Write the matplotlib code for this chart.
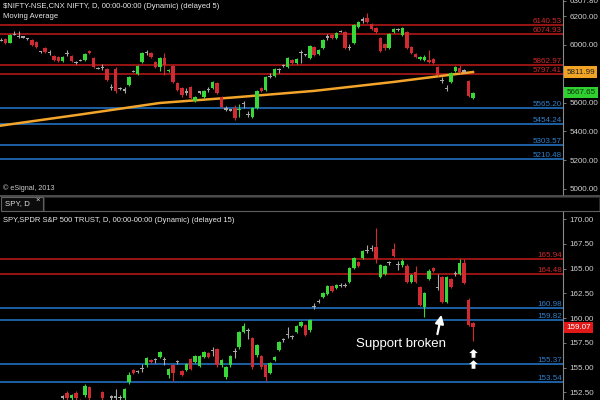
import matplotlib
matplotlib.use('Agg')
import matplotlib.pyplot as plt
import numpy as np
from matplotlib.lines import Line2D
from matplotlib.patches import Rectangle
from matplotlib.path import Path
import matplotlib.transforms as mtransforms

plt.rcParams['font.family'] = ['Liberation Sans', 'DejaVu Sans']

# ---------------- NIFTY (top panel) ----------------
nifty_open = [6035, 6042, 6014, 6076, 6058, 6056, 6044, 6035, 6021, 5953,
              5979, 5946, 5924, 5917, 5889, 5940, 5924, 5882, 5896, 5896,
              5958, 5910, 5840, 5847, 5833, 5708, 5833, 5701, 5688, 5722,
              5819, 5799, 5882, 5951, 5944, 5882, 5847, 5910, 5819, 5854,
              5736, 5701, 5674, 5708, 5611, 5674, 5639, 5694, 5701, 5736,
              5639, 5556, 5549, 5562, 5545, 5597, 5521, 5500, 5562, 5701,
              5688, 5785, 5785, 5828, 5854, 5847, 5896, 5875, 5946, 5932,
              5910, 5986, 5938, 5979, 6056, 6069, 6049, 6097, 6090, 5986,
              6014, 6125, 6174, 6187, 6146, 6118, 6049, 6007, 5979, 6090,
              6111, 6069, 6090, 5986, 5938, 5903, 5896, 5896, 5903, 5847,
              5757, 5701, 5743, 5819, 5840, 5820, 5750, 5632]
nifty_close = [6032, 6014, 6069, 6074, 6056, 6054, 6042, 6000, 5986, 5950,
               5951, 5943, 5896, 5889, 5917, 5937, 5889, 5880, 5894, 5938,
               5944, 5847, 5838, 5845, 5757, 5706, 5681, 5699, 5686, 5778,
               5817, 5854, 5944, 5949, 5917, 5847, 5910, 5861, 5826, 5743,
               5688, 5653, 5672, 5632, 5639, 5672, 5681, 5692, 5743, 5667,
               5569, 5554, 5547, 5493, 5553, 5594, 5519, 5562, 5681, 5681,
               5778, 5783, 5833, 5826, 5856, 5910, 5875, 5903, 5944, 5930,
               5993, 5931, 5965, 6035, 6054, 6049, 6083, 6095, 5979, 5984,
               6139, 6160, 6172, 6160, 6111, 6090, 5958, 5979, 6076, 6111,
               6109, 6118, 5979, 5944, 5917, 5917, 5917, 5882, 5875, 5792,
               5755, 5699, 5806, 5847, 5812, 5818, 5646, 5668]
nifty_high = [6045, 6050, 6075, 6095, 6097, 6062, 6050, 6042, 6028, 5960,
              5985, 5965, 5931, 5924, 5924, 5965, 5931, 5889, 5905, 5945,
              5962, 5915, 5847, 5868, 5840, 5729, 5847, 5708, 5708, 5782,
              5826, 5860, 5951, 5965, 5951, 5889, 5917, 5944, 5833, 5861,
              5743, 5708, 5701, 5715, 5646, 5681, 5688, 5708, 5750, 5743,
              5646, 5576, 5556, 5583, 5590, 5611, 5540, 5569, 5688, 5708,
              5785, 5806, 5840, 5840, 5865, 5917, 5903, 5910, 5965, 5940,
              6000, 5993, 5972, 6042, 6076, 6076, 6090, 6104, 6097, 6007,
              6146, 6167, 6195, 6222, 6153, 6125, 6056, 6014, 6083, 6118,
              6120, 6125, 6097, 5993, 5944, 5924, 5931, 5965, 5910, 5854,
              5778, 5722, 5812, 5854, 5861, 5830, 5757, 5674]
nifty_low = [6025, 6008, 6010, 6068, 6050, 6048, 6036, 5993, 5980, 5944,
             5945, 5931, 5889, 5882, 5882, 5924, 5882, 5870, 5885, 5889,
             5940, 5840, 5830, 5826, 5750, 5688, 5667, 5690, 5667, 5715,
             5810, 5792, 5875, 5930, 5910, 5840, 5820, 5792, 5812, 5736,
             5680, 5640, 5653, 5625, 5605, 5660, 5632, 5674, 5694, 5660,
             5562, 5540, 5540, 5480, 5500, 5562, 5500, 5493, 5555, 5674,
             5681, 5771, 5778, 5806, 5845, 5840, 5868, 5868, 5875, 5920,
             5903, 5924, 5931, 5972, 6035, 6042, 6042, 6088, 5972, 5965,
             6007, 6118, 6153, 6153, 6104, 6083, 5951, 5965, 5972, 6083,
             6097, 6062, 5972, 5937, 5910, 5896, 5889, 5875, 5868, 5785,
             5736, 5681, 5736, 5812, 5806, 5806, 5640, 5625]
ma_idx = [0, 18, 36, 53, 71, 89, 98, 107]
ma_vals = [5440, 5517, 5597, 5636, 5681, 5743, 5778, 5812]
nifty_res = [6140.53, 6074.93, 5862.97, 5797.41]
nifty_sup = [5565.20, 5454.24, 5303.57, 5210.48]
nifty_ticks = [6307.80, 6200, 6000, 5600, 5400, 5200, 5000]
nifty_ma_last = 5811.99
nifty_last = 5667.65

# ---------------- SPY (bottom panel) ----------------
spy_start = 14
spy_open = [152.0, 152.4, 151.9, 152.4, 151.6, 152.2, 153.0, 151.5, 151.3, 152.5,
            151.6, 152.0, 152.0, 151.95, 151.9, 153.5, 154.75, 154.6, 154.9, 155.3,
            155.8, 155.75, 156.1, 155.78, 154.2, 155.25, 155.6, 154.6, 154.7, 155.9,
            155.6, 155.2, 156.1, 156.5, 156.67, 156.9, 155.25, 154.0, 155.25, 156.56,
            157.07, 158.6, 158.7, 158.0, 156.26, 156.16, 155.25, 154.44, 155.76, 156.8,
            157.78, 158.3, 158.1, 158.6, 159.2, 159.3, 158.8, 161.2, 161.7, 162.1,
            162.4, 163.2, 163.0, 163.3, 163.3, 163.6, 165.1, 165.7, 166.1, 166.8,
            167.0, 167.2, 164.1, 164.4, 165.6, 167.0, 165.4, 165.35, 165.3, 163.6,
            164.6, 163.1, 161.1, 163.9, 165.1, 163.1, 164.1, 161.6, 163.9, 164.45,
            164.45, 165.55, 161.8, 159.5]
spy_close = [152.05, 151.9, 152.2, 151.9, 151.5, 153.1, 151.9, 151.3, 151.6, 151.9,
             151.5, 152.05, 152.05, 152.0, 152.8, 154.2, 154.45, 154.65, 154.95, 156.0,
             155.6, 155.8, 156.6, 155.8, 154.9, 154.45, 155.62, 154.2, 155.4, 154.9,
             156.2, 156.2, 156.6, 156.1, 156.7, 155.25, 155.76, 155.1, 156.16, 156.6,
             158.6, 159.2, 158.72, 155.05, 157.27, 155.05, 154.04, 155.46, 156.06, 157.6,
             157.8, 158.32, 158.12, 159.2, 159.6, 158.3, 159.8, 161.22, 161.72, 162.5,
             163.2, 162.7, 163.3, 163.32, 163.32, 165.1, 166.1, 165.3, 166.8, 166.82,
             167.02, 166.0, 165.4, 165.3, 165.62, 166.3, 165.42, 165.8, 163.6, 164.3,
             163.6, 161.3, 162.5, 164.8, 164.75, 163.12, 161.6, 164.1, 163.1, 164.47,
             165.55, 163.5, 159.3, 159.07]
spy_high = [152.2, 152.6, 152.3, 152.6, 151.8, 153.3, 153.1, 151.7, 151.7, 152.6,
            151.7, 152.2, 152.8, 152.2, 152.9, 154.5, 154.9, 154.8, 155.4, 156.1,
            155.9, 156.0, 156.7, 156.1, 155.0, 155.4, 155.8, 154.7, 155.5, 156.0,
            156.3, 156.3, 156.7, 156.6, 157.1, 157.0, 155.9, 155.2, 156.3, 157.0,
            158.7, 159.5, 159.0, 158.1, 157.4, 156.3, 155.4, 155.6, 156.2, 157.7,
            158.0, 159.1, 158.3, 159.3, 159.7, 159.4, 159.9, 161.5, 161.9, 162.6,
            163.3, 163.3, 163.4, 163.5, 163.5, 165.2, 166.2, 165.8, 166.9, 167.4,
            167.4, 169.1, 165.5, 165.4, 165.8, 167.6, 165.8, 166.0, 165.5, 164.4,
            165.3, 163.2, 162.6, 165.0, 165.2, 164.4, 164.2, 164.2, 164.0, 164.8,
            166.0, 166.0, 162.0, 159.6]
spy_low = [151.8, 151.7, 151.7, 151.6, 151.2, 152.0, 151.6, 151.0, 151.1, 151.6,
           151.2, 151.7, 151.7, 151.7, 151.7, 153.3, 154.3, 154.4, 154.5, 155.1,
           155.5, 155.5, 156.0, 155.3, 153.9, 153.6, 155.4, 154.1, 154.6, 154.8,
           155.5, 155.1, 156.0, 156.0, 156.2, 155.1, 155.1, 153.8, 155.1, 156.0,
           156.9, 158.5, 157.9, 154.9, 156.1, 154.9, 153.6, 154.3, 155.7, 156.7,
           157.6, 158.0, 157.9, 158.5, 159.1, 158.2, 158.6, 160.9, 161.5, 162.0,
           162.3, 162.6, 162.9, 163.1, 163.1, 163.5, 165.0, 165.2, 166.0, 166.6,
           166.8, 165.6, 164.0, 164.3, 165.4, 166.2, 164.9, 165.2, 163.5, 163.5,
           163.5, 161.2, 160.1, 163.8, 164.6, 162.8, 161.5, 161.5, 163.0, 164.2,
           164.3, 163.4, 159.2, 157.7]
spy_res = [165.94, 164.48]
spy_sup = [160.98, 159.82, 155.37, 153.54]
spy_ticks = [170.0, 167.5, 165.0, 162.5, 160.0, 157.5, 155.0, 152.5]
spy_last = 159.07
spy_marks = [156.5, 155.35]

UP, DOWN, DOJI = '#38d838', '#d02a32', '#a8a8a8'
RES_C, SUP_C = '#a51616', '#1f68b0'
RES_T, SUP_T = '#d02a2a', '#2f80cc'
AXC = '#8a8a8a'
TXT = '#d0d0d0'
FS = 5.8

fig = plt.figure(figsize=(6, 4), dpi=100, facecolor='black')
ax1 = fig.add_axes([0, 1 - 195 / 400, 563 / 600, 195 / 400])
ax2 = fig.add_axes([0, 0, 563 / 600, 189 / 400])


def draw_candles(ax, start, o, h, l, c, tol, min_h):
    o, h, l, c = map(np.asarray, (o, h, l, c))
    x = start + np.arange(len(o))
    d = c - o
    cols = np.where(np.abs(d) <= tol, DOJI, np.where(d > 0, UP, DOWN))
    ax.vlines(x, l, h, colors=cols, lw=0.8, zorder=3)
    hgt = np.maximum(np.abs(d), min_h)
    bot = np.where(np.abs(d) < min_h, (o + c) / 2 - min_h / 2, np.minimum(o, c))
    ax.bar(x, hgt, bottom=bot, width=0.78, color=cols, linewidth=0, zorder=4)


def style(ax, ylim, ticks):
    ax.set_facecolor('black')
    ax.set_xlim(-0.23, 127.4)
    ax.set_ylim(*ylim)
    ax.set_xticks([])
    for s in ['left', 'top', 'bottom']:
        ax.spines[s].set_visible(False)
    ax.spines['right'].set_color(AXC)
    ax.spines['right'].set_linewidth(0.8)
    ax.yaxis.tick_right()
    ax.set_yticks(ticks)
    ax.set_yticklabels([f'{t:.2f}' for t in ticks])
    ax.tick_params(axis='y', colors=AXC, labelcolor=TXT, labelsize=FS,
                   length=2.5, width=0.6, pad=2)


def levels(ax, vals, lc, tc):
    tr = mtransforms.blended_transform_factory(ax.transAxes, ax.transData)
    for v in vals:
        ax.axhline(v, color=lc, lw=1.3, zorder=2)
        ax.text(0.998, v, f'{v:.2f}', transform=tr, ha='right', va='bottom',
                color=tc, fontsize=FS, zorder=5)


def tag(ax, v, fc, tc):
    tr = mtransforms.blended_transform_factory(ax.transAxes, ax.transData)
    ax.text(1.006, v, f'{v:.2f}', transform=tr, ha='left', va='center',
            color=tc, fontsize=FS, clip_on=False, zorder=10,
            bbox=dict(boxstyle='square,pad=0.25', fc=fc, ec='none'))


# top panel
style(ax1, (4958, 6312), nifty_ticks)
levels(ax1, nifty_res, RES_C, RES_T)
levels(ax1, nifty_sup, SUP_C, SUP_T)
ax1.plot(ma_idx, ma_vals, color='#f2a52a', lw=1.8, zorder=3)
draw_candles(ax1, 0, nifty_open, nifty_high, nifty_low, nifty_close, 4.5, 7.5)
tag(ax1, nifty_ma_last, '#f0a324', '#202020')
tag(ax1, nifty_last, '#2fd02f', '#103010')

# bottom panel
style(ax2, (151.72, 170.81), spy_ticks)
levels(ax2, spy_res, RES_C, RES_T)
levels(ax2, spy_sup, SUP_C, SUP_T)
draw_candles(ax2, spy_start, spy_open, spy_high, spy_low, spy_close, 0.07, 0.11)
tag(ax2, spy_last, '#e01818', 'white')

# annotations
ax2.text(90.7, 157.37, 'Support broken', color='white', fontsize=9.5,
         ha='center', va='center', zorder=10)
ax2.annotate('', xy=(99.97, 160.6), xytext=(98.8, 158.1),
             arrowprops=dict(arrowstyle='-|>,head_width=0.25,head_length=0.5',
                             color='white', lw=1.6), zorder=10)
arrow_marker = Path([(0, 1), (1, 0.1), (0.45, 0.1), (0.45, -1), (-0.45, -1),
                     (-0.45, 0.1), (-1, 0.1), (0, 1)])
ax2.scatter([spy_start + len(spy_open) - 1] * len(spy_marks), spy_marks,
            marker=arrow_marker, s=38, color='white', zorder=10, linewidths=0)

# headers and frame elements
fig.text(3 / 600, 1 - 6.5 / 400, '$NIFTY-NSE,CNX NIFTY, D, 00:00-00:00 (Dynamic) (delayed 5)',
         color='#e8e8e8', fontsize=5.5, va='center', ha='left')
fig.text(3 / 600, 1 - 16.5 / 400, 'Moving Average', color='#e8e8e8', fontsize=5.5,
         va='center', ha='left')
fig.text(3 / 600, 1 - 188 / 400, '\u00a9 eSignal, 2013', color='#c8c8c8', fontsize=5.2,
         va='center', ha='left')
fig.text(3 / 600, 1 - 220 / 400, 'SPY,SPDR S&P 500 TRUST, D, 00:00-00:00 (Dynamic) (delayed 15)',
         color='#e8e8e8', fontsize=5.5, va='center', ha='left')

fig.add_artist(Line2D([0, 1], [1 - 195.5 / 400] * 2, color='#5a5a5a', lw=1.2))
fig.add_artist(Rectangle((1 / 600, 1 - 211 / 400), 42 / 600, 14 / 400,
                         fc='#0c0c0c', ec='#606060', lw=0.8))
fig.add_artist(Rectangle((44 / 600, 1 - 211 / 400), 555 / 600, 14 / 400,
                         fc='black', ec='#333333', lw=0.6))
fig.add_artist(Line2D([43 / 600, 1], [1 - 211 / 400] * 2, color='#606060', lw=0.8))
fig.text(5 / 600, 1 - 204 / 400, 'SPY, D', color='#e0e0e0', fontsize=5.7,
         va='center', ha='left')
fig.text(35 / 600, 1 - 200.5 / 400, '\u00d7', color='#e0e0e0', fontsize=5.5,
         va='center', ha='left')

fig.savefig('out.png', dpi=100, facecolor='black')
